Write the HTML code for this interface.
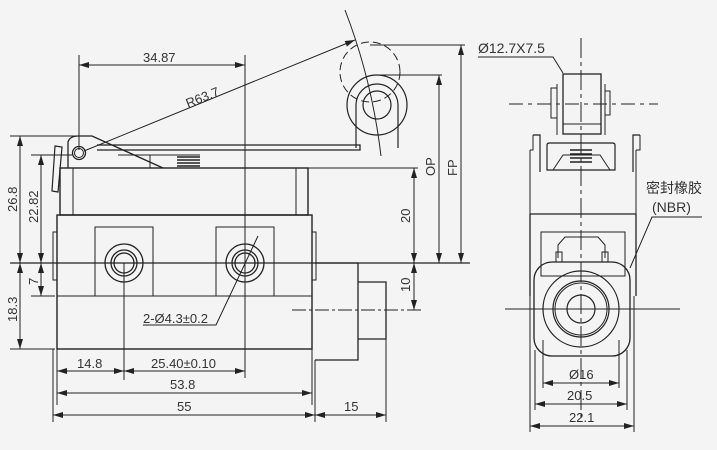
<!DOCTYPE html>
<html><head><meta charset="utf-8"><style>
html,body{margin:0;padding:0;background:#f4f4f4;}
svg{display:block;}
text{font-family:"Liberation Sans","Noto Sans CJK SC",sans-serif;fill:#333;font-size:13px;}
</style></head><body>
<svg width="717" height="450" viewBox="0 0 717 450" xmlns="http://www.w3.org/2000/svg">
<defs>
<marker id="a" viewBox="0 0 10 6" refX="10" refY="3" markerWidth="10" markerHeight="6" orient="auto-start-reverse" markerUnits="userSpaceOnUse"><path d="M0,0 L10,3 L0,6 z" fill="#222"/></marker>
</defs>
<g stroke="#222" stroke-width="1" fill="none">
<!-- LEFT VIEW -->
<!-- centerlines -->
<line x1="10" y1="263" x2="470" y2="263" stroke-width="1.2"/>
<line x1="292" y1="310" x2="424" y2="310" stroke-dasharray="14,3,3,3"/>
<!-- upper body -->
<rect x="60" y="168" width="248" height="47" stroke-width="1.4"/>
<line x1="73" y1="168" x2="73" y2="215"/>
<line x1="296" y1="168" x2="296" y2="215"/>
<!-- lower body -->
<rect x="57" y="215" width="255" height="134" stroke-width="1.4"/>
<line x1="57" y1="296" x2="312" y2="296"/>
<rect x="53" y="232" width="4" height="48"/>
<rect x="312" y="232" width="4" height="48"/>
<!-- pads -->
<rect x="95" y="227" width="58" height="69"/>
<rect x="216" y="227" width="58" height="69"/>
<circle cx="124" cy="263" r="19" stroke-width="1.3"/><circle cx="124" cy="263" r="13" stroke-width="1.3"/><circle cx="124" cy="263" r="10" stroke-width="1.3"/>
<circle cx="245" cy="263" r="19" stroke-width="1.3"/><circle cx="245" cy="263" r="13" stroke-width="1.3"/><circle cx="245" cy="263" r="10" stroke-width="1.3"/>
<!-- right stub -->
<path d="M315,263 H358 V360 H315" stroke-width="1.3"/>
<path d="M358,282 H386 V339 H358" stroke-width="1.3"/>
<!-- lever -->
<path d="M68,168 V142 Q70,136 78,136 H92 L163,168" stroke-width="1.3"/>
<path d="M97,145 H360 V150 H97" stroke-width="1.3"/>
<line x1="150" y1="155" x2="150" y2="168"/>
<line x1="118" y1="155" x2="200" y2="155"/>
<g stroke-width="1.5"><line x1="177" y1="157" x2="200" y2="157"/><line x1="177" y1="160" x2="200" y2="160"/><line x1="177" y1="163" x2="200" y2="163"/><line x1="177" y1="166" x2="200" y2="166"/></g>
<circle cx="79" cy="153" r="6.5" stroke-width="1.3"/><circle cx="79" cy="153" r="4.5"/>
<path d="M55,146 L62,147 L58,192 L52,191 Z" stroke-width="1.2"/>
<!-- roller -->
<circle cx="370" cy="72" r="30" stroke-dasharray="8,4"/>
<circle cx="377" cy="105" r="30" stroke-width="1.2"/>
<path d="M356,148 V105 A21,21 0 0 1 398,105 V148" stroke-width="1.2"/>
<circle cx="377" cy="105" r="14" stroke-width="1.2"/>
<path d="M345,10 Q372,80 381,156"/>
<!-- R63.7 -->
<line x1="84" y1="151" x2="355" y2="40" marker-end="url(#a)"/>
<!-- 34.87 -->
<line x1="79" y1="55" x2="79" y2="150"/>
<line x1="245" y1="55" x2="245" y2="378"/>
<line x1="79" y1="65" x2="245" y2="65" marker-start="url(#a)" marker-end="url(#a)"/>
<line x1="124" y1="263" x2="124" y2="380"/>
<!-- left dims -->
<line x1="10" y1="136" x2="90" y2="136"/>
<line x1="31" y1="155" x2="72" y2="155"/>
<line x1="31" y1="296" x2="55" y2="296"/>
<line x1="10" y1="349" x2="55" y2="349"/>
<line x1="20" y1="136" x2="20" y2="263" marker-start="url(#a)" marker-end="url(#a)"/>
<line x1="20" y1="263" x2="20" y2="349" marker-start="url(#a)" marker-end="url(#a)"/>
<line x1="41" y1="155" x2="41" y2="263" marker-start="url(#a)" marker-end="url(#a)"/>
<line x1="41" y1="263" x2="41" y2="296" marker-start="url(#a)" marker-end="url(#a)"/>
<!-- bottom dims -->
<line x1="53" y1="349" x2="53" y2="422"/>
<line x1="57" y1="349" x2="57" y2="405"/>
<line x1="312" y1="349" x2="312" y2="405"/>
<line x1="315" y1="360" x2="315" y2="422"/>
<line x1="386" y1="339" x2="386" y2="422"/>
<line x1="57" y1="371" x2="124" y2="371" marker-start="url(#a)" marker-end="url(#a)"/>
<line x1="124" y1="371" x2="245" y2="371" marker-start="url(#a)" marker-end="url(#a)"/>
<line x1="57" y1="393" x2="312" y2="393" marker-start="url(#a)" marker-end="url(#a)"/>
<line x1="53" y1="415" x2="315" y2="415" marker-start="url(#a)" marker-end="url(#a)"/>
<line x1="315" y1="415" x2="386" y2="415" marker-start="url(#a)" marker-end="url(#a)"/>
<!-- hole leader -->
<polyline points="258,236 216,325 143,325"/>
<!-- right dims -->
<line x1="308" y1="168" x2="418" y2="168"/>
<line x1="373" y1="75" x2="442" y2="75"/>
<line x1="370" y1="45" x2="465" y2="45"/>
<line x1="414" y1="168" x2="414" y2="263" marker-start="url(#a)" marker-end="url(#a)"/>
<line x1="414" y1="263" x2="414" y2="310" marker-start="url(#a)" marker-end="url(#a)"/>
<line x1="439" y1="75" x2="439" y2="263" marker-start="url(#a)" marker-end="url(#a)"/>
<line x1="461" y1="45" x2="461" y2="263" marker-start="url(#a)" marker-end="url(#a)"/>

<!-- RIGHT VIEW -->
<line x1="581" y1="38" x2="581" y2="420" stroke-dasharray="20,4,4,4"/>
<line x1="509" y1="104" x2="658" y2="104" stroke-dasharray="14,5,4,5"/>
<line x1="505" y1="309" x2="680" y2="309"/>
<rect x="563" y="74" width="38" height="60" stroke-width="1.3"/>
<line x1="563" y1="124" x2="601" y2="124"/>
<rect x="551" y="88" width="6" height="30"/>
<rect x="605" y="91" width="5" height="24"/>
<path d="M557,84 V135 M605,84 V135"/>
<!-- brackets -->
<path d="M533,135 H540 V172 M640,135 H633 V172" stroke-width="1.2"/>
<path d="M530,150 V214 M636,150 V214 M533,135 V150 H530 M640,135 V150 H636"/>
<path d="M547,170 V145 Q547,143 550,143 H612 Q615,143 615,145 V170 Z" stroke-width="1.2"/>
<path d="M553,170 L563,155 H600 L610,170"/>
<g stroke-width="1.5"><line x1="570" y1="150" x2="592" y2="150"/><line x1="570" y1="154" x2="592" y2="154"/><line x1="570" y1="158" x2="592" y2="158"/><line x1="570" y1="162" x2="592" y2="162"/></g>
<line x1="530" y1="214" x2="636" y2="214" stroke-width="1.3"/>
<path d="M530,214 V296 M636,214 V296" stroke-width="1.3"/>
<rect x="541" y="232" width="84" height="44"/>
<path d="M558,258 V245 L565,237 H598 L605,245 V258"/>
<rect x="556" y="252" width="6" height="10"/><rect x="602" y="252" width="6" height="10"/>
<rect x="534" y="262" width="96" height="94" rx="18" stroke-width="1.3"/>
<circle cx="581" cy="309" r="38" stroke-width="1.2"/>
<circle cx="581" cy="309" r="28" stroke-width="1.2"/>
<circle cx="581" cy="309" r="26"/>
<circle cx="581" cy="309" r="14" stroke-width="1.2"/>
<path d="M530,296 V432 M634,296 V432 M535,350 V410 M627,350 V410 M543,340 V388 M619,340 V388"/>
<line x1="543" y1="383" x2="619" y2="383" marker-start="url(#a)" marker-end="url(#a)"/>
<line x1="535" y1="404" x2="627" y2="404" marker-start="url(#a)" marker-end="url(#a)"/>
<line x1="530" y1="426" x2="634" y2="426" marker-start="url(#a)" marker-end="url(#a)"/>
<polyline points="478,57 553,57 563,73"/>
<polyline points="702,217 652,217 630,268"/>
</g>
<!-- TEXT -->
<text x="143" y="62">34.87</text>
<text x="0" y="0" transform="translate(188,108) rotate(-22)">R63.7</text>
<text x="0" y="0" transform="translate(17,212) rotate(-90)">26.8</text>
<text x="0" y="0" transform="translate(38,223) rotate(-90)">22.82</text>
<text x="0" y="0" transform="translate(38,285) rotate(-90)">7</text>
<text x="0" y="0" transform="translate(17,322) rotate(-90)">18.3</text>
<text x="143" y="323">2-Ø4.3±0.2</text>
<text x="77" y="368">14.8</text>
<text x="151" y="368">25.40±0.10</text>
<text x="170" y="389">53.8</text>
<text x="177" y="411">55</text>
<text x="344" y="411">15</text>
<text x="0" y="0" transform="translate(410,223) rotate(-90)">20</text>
<text x="0" y="0" transform="translate(410,292) rotate(-90)">10</text>
<text x="0" y="0" transform="translate(435,176) rotate(-90)">OP</text>
<text x="0" y="0" transform="translate(457,176) rotate(-90)">FP</text>
<text x="478" y="53" style="font-size:14px">Ø12.7X7.5</text>
<text x="646" y="193" style="font-size:14px">密封橡胶</text>
<text x="652" y="212" style="font-size:14px">(NBR)</text>
<text x="569" y="379">Ø16</text>
<text x="567" y="400">20.5</text>
<text x="569" y="422">22.1</text>
</svg>
</body></html>
